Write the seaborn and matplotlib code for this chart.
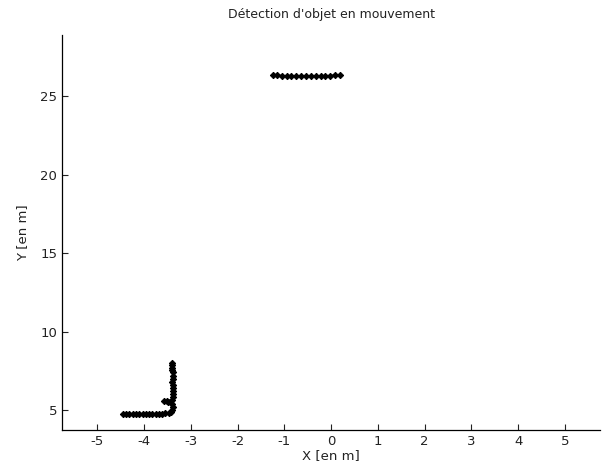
import matplotlib
matplotlib.use("Agg")
import matplotlib.pyplot as plt
import seaborn as sns
import pandas as pd

# Top track (object moving horizontally)
top_x = [-1.25, -1.15, -1.05, -0.95, -0.85, -0.74, -0.64, -0.54, -0.43, -0.33, -0.22, -0.12, -0.02, 0.08, 0.18]
top_y = [26.32, 26.33, 26.30, 26.30, 26.29, 26.29, 26.29, 26.29, 26.29, 26.29, 26.29, 26.30, 26.31, 26.33, 26.33]

# Bottom L-shaped track
bot_x = [-4.45, -4.38, -4.31, -4.24, -4.17, -4.10, -4.03, -3.96, -3.89, -3.82, -3.75, -3.68, -3.61, -3.54, -3.47, -3.42,
         -3.39, -3.38, -3.39, -3.48, -3.56, -3.50, -3.40, -3.38, -3.37, -3.38, -3.37, -3.38, -3.39, -3.38, -3.37, -3.38,
         -3.39, -3.40, -3.41, -3.40]
bot_y = [4.74, 4.73, 4.73, 4.72, 4.72, 4.72, 4.72, 4.72, 4.72, 4.73, 4.73, 4.74, 4.76, 4.78, 4.82, 4.88,
         5.00, 5.20, 5.40, 5.48, 5.55, 5.60, 5.62, 5.80, 6.00, 6.20, 6.40, 6.60, 6.80, 7.00, 7.20, 7.40,
         7.55, 7.70, 7.85, 8.00]

df = pd.DataFrame({
    "x": top_x + bot_x,
    "y": top_y + bot_y,
    "track": ["top"] * len(top_x) + ["bottom"] * len(bot_x),
})

sns.set_style("white")
plt.rcParams["font.family"] = ["DejaVu Sans"]
plt.rcParams["axes.unicode_minus"] = False

fig = plt.figure(figsize=(6.02, 4.73), dpi=100)
ax = fig.add_axes([0.103, 0.091, 0.894, 0.835])

for name, sub in df.groupby("track"):
    sns.lineplot(data=sub, x="x", y="y", sort=False, estimator=None, ax=ax,
                 color="black", linewidth=1.2, marker="D", markersize=3.2,
                 markeredgecolor="black", markerfacecolor="black")

ax.set_xlim(-5.75, 5.75)
ax.set_ylim(3.73, 28.9)
ax.set_xticks([-5, -4, -3, -2, -1, 0, 1, 2, 3, 4, 5])
ax.set_yticks([5, 10, 15, 20, 25])
ax.tick_params(direction="in", length=4, width=0.8, labelsize=9.5, colors="#222222",
               bottom=True, left=True)
for s in ["top", "right"]:
    ax.spines[s].set_visible(False)
for s in ["left", "bottom"]:
    ax.spines[s].set_color("black")
    ax.spines[s].set_linewidth(0.9)

ax.set_xlabel("X [en m]", fontsize=9.5, color="#222222", labelpad=1)
ax.set_ylabel("Y [en m]", fontsize=9.5, color="#222222", labelpad=8)
ax.set_title("Détection d'objet en mouvement", fontsize=9, color="#222222", pad=12)

fig.savefig("out.png", dpi=100)
